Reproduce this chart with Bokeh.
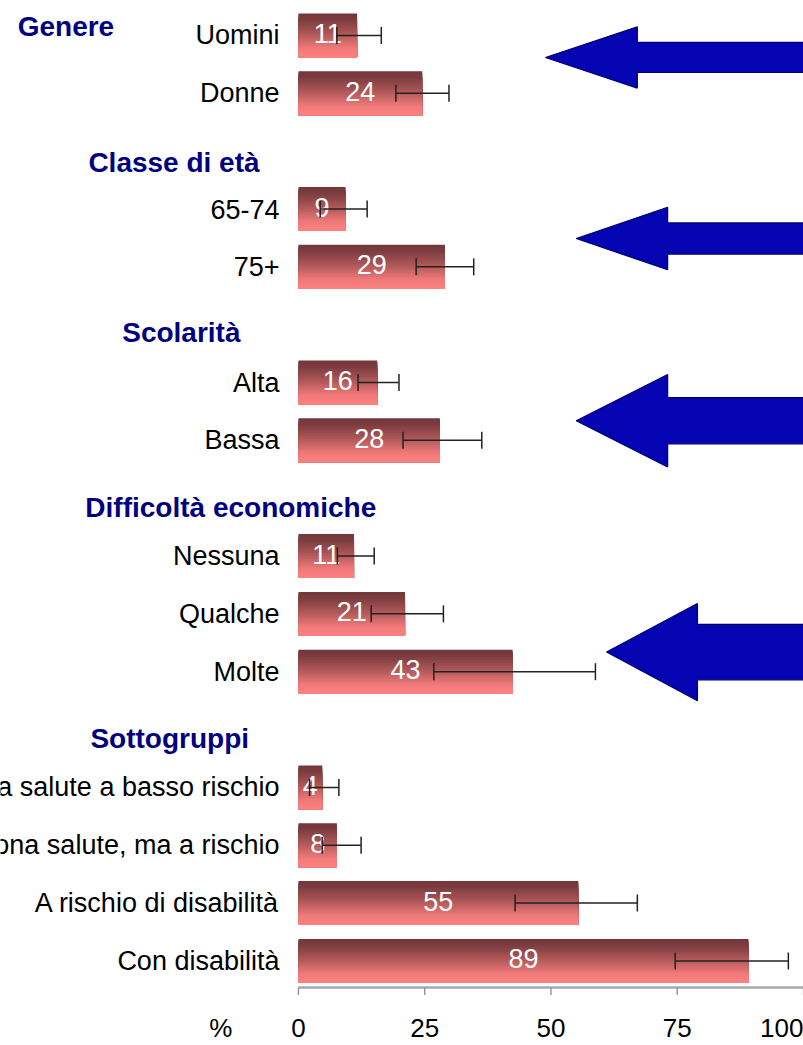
from bokeh.plotting import figure
from bokeh.models import Range1d, FixedTicker, ColumnDataSource, Whisker, TeeHead
from bokeh.core.properties import value
from bokeh.embed import file_html
from bokeh.resources import INLINE

# ---- data ----
group_names = ["Genere", "Classe di età", "Scolarità", "Difficoltà economiche", "Sottogruppi"]
group_sizes = [2, 2, 2, 3, 4]
categories = ["Uomini", "Donne", "65-74", "75+", "Alta", "Bassa",
              "Nessuna", "Qualche", "Molte",
              "In buona salute a basso rischio", "In buona salute, ma a rischio",
              "A rischio di disabilità", "Con disabilità"]
values = [11.6, 24.5, 9.3, 29.0, 15.6, 28.0, 11.0, 21.1, 42.4, 4.7, 7.6, 55.4, 89.1]
value_labels = ["11", "24", "9", "29", "16", "28", "11", "21", "43", "4", "8", "55", "89"]
ci_low = [7.6, 19.3, 4.3, 23.3, 11.8, 20.7, 7.7, 14.4, 26.8, 2.2, 4.7, 42.9, 74.6]
ci_high = [16.4, 29.8, 13.6, 34.7, 19.9, 36.3, 15.0, 28.7, 58.8, 8.0, 12.4, 67.1, 97.0]
x_ticks = [0, 25, 50, 75, 100]
axis_unit = "%"
axis_unit_x = -15.4

# header placement (x in axis units, vertical offset in row slots)
header_x = [-55.6, -41.6, -34.9, -42.2, -41.2]
header_dy = [-0.15, 0.19, 0.13, 0.16, 0.15]

# arrows: tip x, head base x, centre (row slot), head half-height, shaft half-height
arrow_tip_x = [48.9, 55.0, 55.0, 61.0]
arrow_head_x = [67.1, 73.1, 73.1, 79.0]
arrow_cy = [0.38, 3.51, 6.66, 10.66]
arrow_head_half = [0.53, 0.54, 0.80, 0.84]
arrow_shaft_half = [0.26, 0.27, 0.40, 0.48]

# ---- row slots ----
slots, header_slots = [], []
s = 0
for gi, n in enumerate(group_sizes):
    if gi == 0:
        header_slots.append(0)
    else:
        header_slots.append(s)
        s += 1
    for _ in range(n):
        slots.append(s)
        s += 1
header_y = [hs + d for hs, d in zip(header_slots, header_dy)]
axis_y = max(slots) + 0.458          # position of the value axis line
tick_len = 0.13                      # tick length in row slots

FONT = "Liberation Sans"
p = figure(width=803, height=1045, output_backend="svg", toolbar_location=None,
           x_range=Range1d(-59.0, 100.0), y_range=Range1d(axis_y + 0.175, -0.605),
           y_axis_location=None, min_border_left=0, min_border_right=0,
           min_border_top=0, min_border_bottom=48)
p.outline_line_color = None
p.xgrid.visible = False
p.ygrid.visible = False
p.background_fill_color = "white"
p.border_fill_color = "white"

# ---- gradient bars (overlapping strips: each covers from its top to bar bottom) ----
bar_h = 0.76
N = 30
stops = [(0.0, (0x72, 0x37, 0x3a)), (0.15, (0x7c, 0x3d, 0x40)), (0.5, (0xb6, 0x5b, 0x5c)),
         (0.78, (0xef, 0x79, 0x79)), (1.0, (0xff, 0x81, 0x81))]

def grad(t):
    for (t0, c0), (t1, c1) in zip(stops[:-1], stops[1:]):
        if t <= t1:
            f = (t - t0) / (t1 - t0)
            return "#%02x%02x%02x" % tuple(int(round(a + (b - a) * f)) for a, b in zip(c0, c1))
    return "#%02x%02x%02x" % stops[-1][1]

sy, sr, sh, sc = [], [], [], []
for yv, v in zip(slots, values):
    bottom = yv + bar_h / 2
    for k in range(N):
        top = yv - bar_h / 2 + k * bar_h / N
        sy.append((top + bottom) / 2)
        sh.append(bottom - top)
        sr.append(v)
        sc.append(grad((k + 0.5) / N))
p.hbar(y=sy, right=sr, left=0, height=sh, fill_color=sc, line_color=None)

src = ColumnDataSource(dict(y=slots, lo=ci_low, hi=ci_high, v=values,
                            mid=[v / 2 for v in values], vl=value_labels, cat=categories))

# ---- value labels ----
p.text(x="mid", y="y", text="vl", source=src, text_color="white",
       text_font=value(FONT), text_font_size="27px", text_align="center",
       text_baseline="middle", y_offset=-2)

# ---- error bars (drawn above bars and labels) ----
wh = Whisker(source=src, base="y", lower="lo", upper="hi", dimension="width",
             line_color="#222222", line_width=1.5, level="annotation",
             lower_head=TeeHead(size=17, line_color="#222222", line_width=1.5),
             upper_head=TeeHead(size=17, line_color="#222222", line_width=1.5))
p.add_layout(wh)

# ---- category labels ----
p.text(x=0, y="y", text="cat", source=src, text_color="black",
       text_font=value(FONT), text_font_size="27px", text_align="right",
       text_baseline="middle", x_offset=-19)

# ---- group headers ----
p.text(x=header_x, y=header_y, text=group_names, text_color="#000080",
       text_font=value(FONT), text_font_style="bold", text_font_size="28px",
       text_align="left", text_baseline="middle")

# ---- arrows ----
xs, ys = [], []
for tx, hx, cy, hh, shh in zip(arrow_tip_x, arrow_head_x, arrow_cy, arrow_head_half, arrow_shaft_half):
    xs.append([tx, hx, hx, 115, 115, hx, hx])
    ys.append([cy, cy - hh, cy - shh, cy - shh, cy + shh, cy + shh, cy + hh])
p.patches(xs=xs, ys=ys, fill_color="#0404b2", line_color="#00006e", line_width=1.2)

# ---- value axis: line and ticks drawn on the data scale ----
p.segment(x0=[min(x_ticks)], x1=[max(x_ticks)], y0=[axis_y], y1=[axis_y],
          line_color="#a8a8a8", line_width=2.5)
p.segment(x0=x_ticks, x1=x_ticks, y0=[axis_y] * len(x_ticks), y1=[axis_y + tick_len] * len(x_ticks),
          line_color="#8c8c8c", line_width=1.3)

ax = p.xaxis[0]
ax.ticker = FixedTicker(ticks=[axis_unit_x] + x_ticks)
ax.major_label_overrides = {axis_unit_x: axis_unit}
ax.axis_line_color = None
ax.major_tick_line_color = None
ax.minor_tick_line_color = None
ax.major_tick_out = 0
ax.major_tick_in = 0
ax.major_label_standoff = 15
ax.major_label_text_font = FONT
ax.major_label_text_font_size = "26px"
ax.major_label_text_color = "black"

open("out.html", "w").write(file_html(p, INLINE))
